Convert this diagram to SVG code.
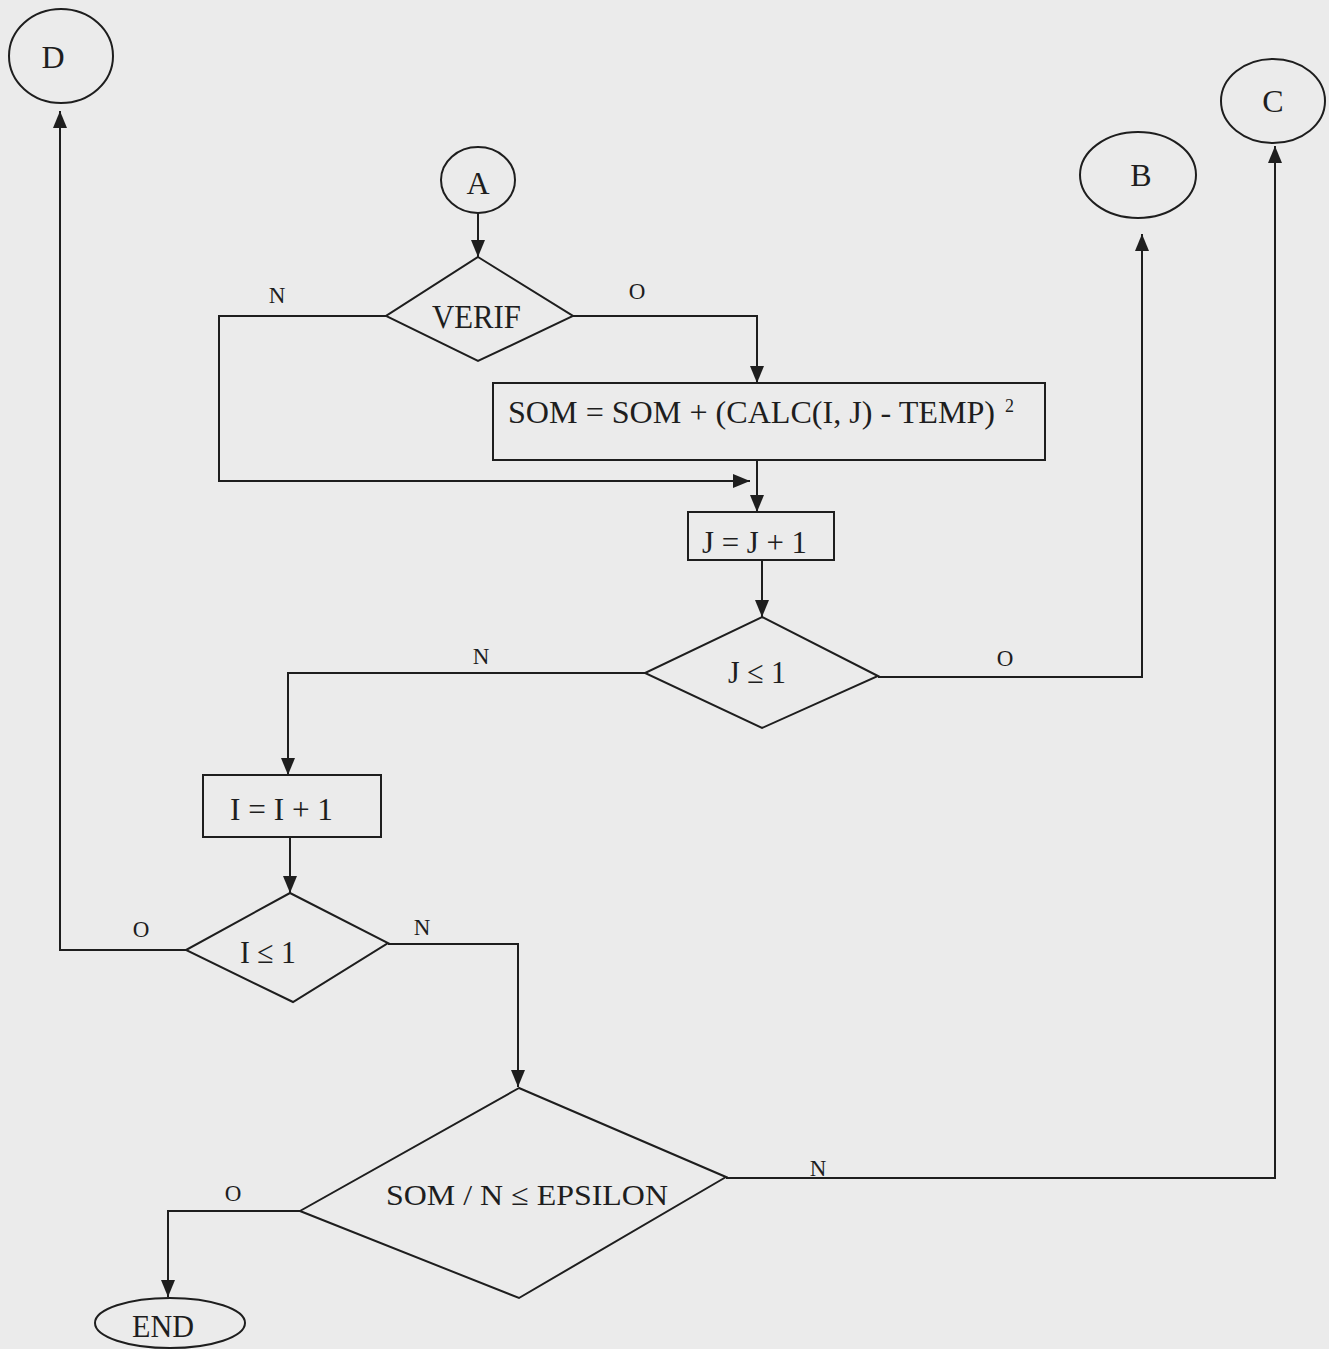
<svg xmlns="http://www.w3.org/2000/svg" width="1329" height="1349" viewBox="0 0 1329 1349">
  <style>
    .shape { fill: none; stroke: #1e1e1e; stroke-width: 2; }
    .wire { fill: none; stroke: #1e1e1e; stroke-width: 2; }
    .txt { font-family: "Liberation Serif", "Times New Roman", serif; fill: #1e1e1e; }
    .lbl { font-family: "Liberation Serif", "Times New Roman", serif; fill: #1e1e1e; font-size: 23px; text-anchor: middle; }
  </style>
  <defs>
    <marker id="arrow" markerUnits="userSpaceOnUse" markerWidth="18" markerHeight="14" refX="17" refY="7" orient="auto">
      <path d="M0,0 L17,7 L0,14 z" fill="#1e1e1e"/>
    </marker>
  </defs>

  <rect x="0" y="0" width="1329" height="1349" fill="#ebebeb"/>

  <!-- connectors -->
  <g id="connectors">
    <path class="wire" d="M478,213 V257" marker-end="url(#arrow)"/>
    <path class="wire" d="M573,316 H757 V383" marker-end="url(#arrow)"/>
    <path class="wire" d="M386,316 H219 V481 H750" marker-end="url(#arrow)"/>
    <path class="wire" d="M757,460 V512" marker-end="url(#arrow)"/>
    <path class="wire" d="M762,560 V617" marker-end="url(#arrow)"/>
    <path class="wire" d="M645,673 H288 V775" marker-end="url(#arrow)"/>
    <path class="wire" d="M878,677 H1142 V234" marker-end="url(#arrow)"/>
    <path class="wire" d="M290,837 V893" marker-end="url(#arrow)"/>
    <path class="wire" d="M186,950 H60 V111" marker-end="url(#arrow)"/>
    <path class="wire" d="M388,944 H518 V1087" marker-end="url(#arrow)"/>
    <path class="wire" d="M300,1211 H168 V1297" marker-end="url(#arrow)"/>
    <path class="wire" d="M726,1178 H1275 V146" marker-end="url(#arrow)"/>

    <text class="lbl" x="277" y="303">N</text>
    <text class="lbl" x="637" y="299">O</text>
    <text class="lbl" x="481" y="664">N</text>
    <text class="lbl" x="1005" y="666">O</text>
    <text class="lbl" x="141" y="937">O</text>
    <text class="lbl" x="422" y="935">N</text>
    <text class="lbl" x="233" y="1201">O</text>
    <text class="lbl" x="818" y="1176">N</text>
  </g>

  <!-- connector D -->
  <g id="node-d">
    <ellipse class="shape" cx="61" cy="56" rx="52" ry="47"/>
    <text class="txt" x="53" y="68" font-size="32" text-anchor="middle">D</text>
  </g>

  <!-- connector A -->
  <g id="node-a">
    <ellipse class="shape" cx="478" cy="180" rx="37" ry="33"/>
    <text class="txt" x="478" y="194" font-size="32" text-anchor="middle">A</text>
  </g>

  <!-- connector B -->
  <g id="node-b">
    <ellipse class="shape" cx="1138" cy="175" rx="58" ry="43"/>
    <text class="txt" x="1141" y="186" font-size="32" text-anchor="middle">B</text>
  </g>

  <!-- connector C -->
  <g id="node-c">
    <ellipse class="shape" cx="1273" cy="101" rx="52" ry="42"/>
    <text class="txt" x="1273" y="112" font-size="32" text-anchor="middle">C</text>
  </g>

  <!-- VERIF test -->
  <g id="node-verif">
    <polygon class="shape" points="478,257 573,316 478,361 386,316"/>
    <text class="txt" x="432" y="328" font-size="34" textLength="89" lengthAdjust="spacingAndGlyphs">VERIF</text>
  </g>

  <!-- accumulate squared error -->
  <g id="node-som">
    <rect class="shape" x="493" y="383" width="552" height="77"/>
    <text class="txt" x="508" y="423" font-size="32" textLength="487" lengthAdjust="spacingAndGlyphs">SOM = SOM + (CALC(I, J) - TEMP)</text>
    <text class="txt" x="1005" y="412" font-size="18">2</text>
  </g>

  <!-- increment J -->
  <g id="node-jinc">
    <rect class="shape" x="688" y="512" width="146" height="48"/>
    <text class="txt" x="702" y="553" font-size="32" textLength="105" lengthAdjust="spacingAndGlyphs">J = J + 1</text>
  </g>

  <!-- J test -->
  <g id="node-jtest">
    <polygon class="shape" points="762,617 878,676 762,728 645,673"/>
    <text class="txt" x="728" y="683" font-size="32" textLength="58" lengthAdjust="spacingAndGlyphs">J ≤ 1</text>
  </g>

  <!-- increment I -->
  <g id="node-iinc">
    <rect class="shape" x="203" y="775" width="178" height="62"/>
    <text class="txt" x="230" y="820" font-size="32" textLength="103" lengthAdjust="spacingAndGlyphs">I = I + 1</text>
  </g>

  <!-- I test -->
  <g id="node-itest">
    <polygon class="shape" points="290,893 388,943 293,1002 186,950"/>
    <text class="txt" x="240" y="963" font-size="32" textLength="56" lengthAdjust="spacingAndGlyphs">I ≤ 1</text>
  </g>

  <!-- convergence test -->
  <g id="node-eps">
    <polygon class="shape" points="519,1088 726,1177 519,1298 300,1211"/>
    <text class="txt" x="386" y="1205" font-size="30" textLength="282" lengthAdjust="spacingAndGlyphs">SOM / N ≤ EPSILON</text>
  </g>

  <!-- end terminal -->
  <g id="node-end">
    <ellipse class="shape" cx="170" cy="1323" rx="75" ry="25"/>
    <text class="txt" x="132" y="1337" font-size="32" textLength="62" lengthAdjust="spacingAndGlyphs">END</text>
  </g>
</svg>
